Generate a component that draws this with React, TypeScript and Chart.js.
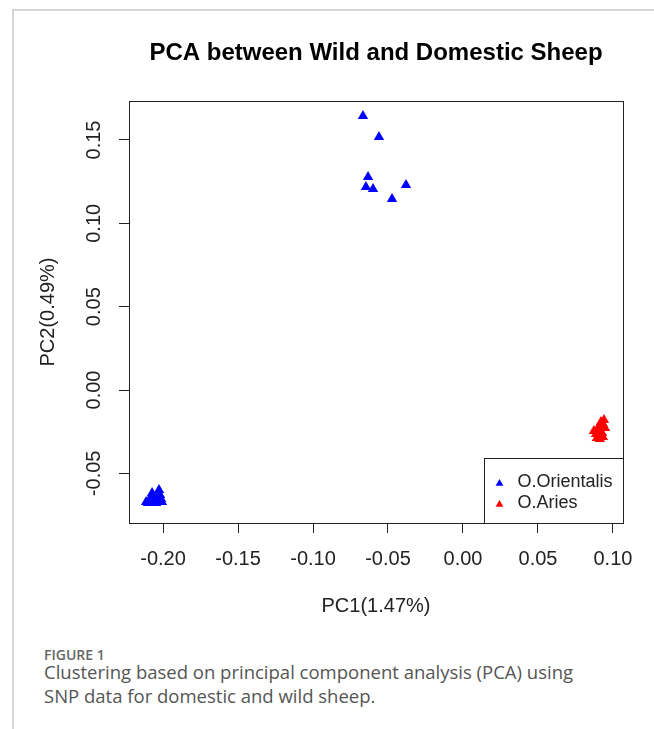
import { useEffect, useRef } from "react";
import { Chart, registerables } from "chart.js";

Chart.register(...registerables);

const chartTitle = "PCA between Wild and Domestic Sheep";
const xAxisTitle = "PC1(1.47%)";
const yAxisTitle = "PC2(0.49%)";
const seriesNames = ["O.Orientalis", "O.Aries"];
const seriesColors = ["#0000ff", "#ff0000"];
const xTicks = [-0.2, -0.15, -0.1, -0.05, 0, 0.05, 0.1];
const yTicks = [-0.05, 0, 0.05, 0.1, 0.15];
const xRange = [-0.2227, 0.1067];
const yRange = [-0.0798, 0.1734];

// O.Orientalis (blue): upper cluster + lower-left cluster
const orientalisPC1 = [
  -0.0667, -0.056, -0.0633, -0.0647, -0.06, -0.038, -0.0473,
  -0.2113, -0.2093, -0.208, -0.2067, -0.2073, -0.2053, -0.204, -0.2027,
  -0.202, -0.2013, -0.2007, -0.2087, -0.2047, -0.2033, -0.206, -0.21,
];
const orientalisPC2 = [
  0.1644, 0.1518, 0.1278, 0.1218, 0.1206, 0.123, 0.1146,
  -0.0672, -0.066, -0.0648, -0.0636, -0.0618, -0.066, -0.0648, -0.06,
  -0.063, -0.0654, -0.0672, -0.0678, -0.0678, -0.0666, -0.0666, -0.0678,
];
// O.Aries (red)
const ariesPC1 = [
  0.094, 0.0933, 0.092, 0.0913, 0.09, 0.0927, 0.0887, 0.0907,
  0.0933, 0.0893, 0.0913, 0.0873, 0.092, 0.0947, 0.09,
];
const ariesPC2 = [
  -0.018, -0.0204, -0.0222, -0.024, -0.0252, -0.0258, -0.0264, -0.0276,
  -0.0282, -0.0288, -0.0294, -0.0246, -0.0192, -0.0228, -0.0228,
];

const FONT = '"Liberation Sans", Arial, sans-serif';

function drawTri(ctx: CanvasRenderingContext2D, x: number, y: number, r: number, color: string) {
  ctx.beginPath();
  let rad = 0;
  ctx.moveTo(x + Math.sin(rad) * r, y - Math.cos(rad) * r);
  rad += (2 * Math.PI) / 3;
  ctx.lineTo(x + Math.sin(rad) * r, y - Math.cos(rad) * r);
  rad += (2 * Math.PI) / 3;
  ctx.lineTo(x + Math.sin(rad) * r, y - Math.cos(rad) * r);
  ctx.closePath();
  ctx.fillStyle = color;
  ctx.fill();
}

const boxPlugin = {
  id: "rBox",
  afterDraw(chart: any) {
    const { ctx, chartArea } = chart;
    const ys = chart.scales.y;
    ctx.save();
    // plot frame
    ctx.strokeStyle = "#222";
    ctx.lineWidth = 1;
    const l = Math.round(chartArea.left) + 0.5;
    const t = Math.round(chartArea.top) + 0.5;
    const r = Math.round(chartArea.right) + 0.5;
    const b = Math.round(chartArea.bottom) + 0.5;
    ctx.strokeRect(l, t, r - l, b - t);
    // rotated y tick labels
    ctx.font = "20px " + FONT;
    ctx.fillStyle = "#222";
    ctx.textAlign = "center";
    ctx.textBaseline = "middle";
    yTicks.forEach((v) => {
      const py = ys.getPixelForValue(v);
      ctx.save();
      ctx.translate(chartArea.left - 35, py);
      ctx.rotate(-Math.PI / 2);
      ctx.fillText(v.toFixed(2), 0, 0);
      ctx.restore();
    });
    // legend
    const lw = 139;
    const lh = 65;
    const lx = Math.round(chartArea.right - lw) + 0.5;
    const ly = Math.round(chartArea.bottom - lh) + 0.5;
    ctx.fillStyle = "#fff";
    ctx.fillRect(lx, ly, lw, lh);
    ctx.strokeStyle = "#222";
    ctx.strokeRect(lx, ly, lw, lh);
    ctx.font = "18px " + FONT;
    ctx.textAlign = "left";
    ctx.textBaseline = "middle";
    seriesNames.forEach((name, i) => {
      const cy = ly + 24 + i * 21;
      drawTri(ctx, lx + 15, cy + 1, 4.5, seriesColors[i]);
      ctx.fillStyle = "#222";
      ctx.fillText(name, lx + 33, cy);
    });
    ctx.restore();
  },
};

export default function App() {
  const ref = useRef<HTMLCanvasElement | null>(null);

  useEffect(() => {
    if (!ref.current) return;
    const toPts = (xs: number[], ys: number[]) => xs.map((x, i) => ({ x, y: ys[i] }));
    const chart = new Chart(ref.current, {
      type: "scatter",
      data: {
        datasets: [
          {
            label: seriesNames[0],
            data: toPts(orientalisPC1, orientalisPC2),
            backgroundColor: seriesColors[0],
            borderColor: seriesColors[0],
            borderWidth: 0,
            pointStyle: "triangle",
            pointRadius: 6,
          },
          {
            label: seriesNames[1],
            data: toPts(ariesPC1, ariesPC2),
            backgroundColor: seriesColors[1],
            borderColor: seriesColors[1],
            borderWidth: 0,
            pointStyle: "triangle",
            pointRadius: 6,
          },
        ],
      },
      options: {
        responsive: false,
        animation: false,
        devicePixelRatio: 1,
        layout: { padding: { left: 0, right: 31, top: 0, bottom: 0 } },
        plugins: {
          legend: { display: false },
          tooltip: { enabled: false },
          title: {
            display: true,
            text: chartTitle,
            fullSize: false,
            color: "#000",
            font: { family: FONT, size: 24, weight: "bold" },
            padding: { top: 38.6, bottom: 33.6 },
          },
        },
        scales: {
          x: {
            type: "linear",
            min: xRange[0],
            max: xRange[1],
            afterBuildTicks: (s: any) => {
              s.ticks = xTicks.map((v) => ({ value: v }));
            },
            afterFit: (s: any) => {
              s.height = 117;
            },
            ticks: {
              includeBounds: false,
              color: "#222",
              font: { family: FONT, size: 20 },
              padding: 14,
              maxRotation: 0,
              callback: (v: any) => Number(v).toFixed(2),
            },
            grid: {
              display: true,
              drawOnChartArea: false,
              drawTicks: true,
              tickLength: 10,
              color: "#222",
              lineWidth: 1,
            },
            border: { display: true, color: "#222", width: 1 },
            title: {
              display: true,
              text: xAxisTitle,
              color: "#222",
              font: { family: FONT, size: 20 },
              padding: { top: 0, bottom: 22 },
            },
          },
          y: {
            type: "linear",
            min: yRange[0],
            max: yRange[1],
            afterBuildTicks: (s: any) => {
              s.ticks = yTicks.map((v) => ({ value: v }));
            },
            afterFit: (s: any) => {
              s.width = 129;
            },
            ticks: { display: false, includeBounds: false },
            grid: {
              display: true,
              drawOnChartArea: false,
              drawTicks: true,
              tickLength: 10,
              color: "#222",
              lineWidth: 1,
            },
            border: { display: true, color: "#222", width: 1 },
            title: {
              display: true,
              text: yAxisTitle,
              color: "#222",
              font: { family: FONT, size: 20 },
              padding: { top: 36, bottom: 0 },
            },
          },
        },
      },
      plugins: [boxPlugin],
    });
    return () => chart.destroy();
  }, []);

  return (
    <div style={{ position: "fixed", left: 0, top: 0, width: 654, height: 729, background: "#fff", overflow: "hidden" }}>
      <div style={{ position: "absolute", left: 12, top: 9, width: 642, height: 2, background: "#d6d6d6" }} />
      <div style={{ position: "absolute", left: 12, top: 9, width: 2, height: 720, background: "#d6d6d6" }} />
      <canvas ref={ref} width={654} height={640} style={{ position: "absolute", left: 0, top: 0, width: 654, height: 640 }} />
      <div style={{ position: "absolute", left: 44, top: 645, font: '600 14px "Open Sans", sans-serif', color: "#666", whiteSpace: "nowrap" }}>
        FIGURE 1
      </div>
      <div style={{ position: "absolute", left: 44, top: 660, font: '18.5px "Open Sans", sans-serif', lineHeight: "24px", color: "#555", whiteSpace: "nowrap" }}>
        Clustering based on principal component analysis (PCA) using
        <br />
        SNP data for domestic and wild sheep.
      </div>
    </div>
  );
}
